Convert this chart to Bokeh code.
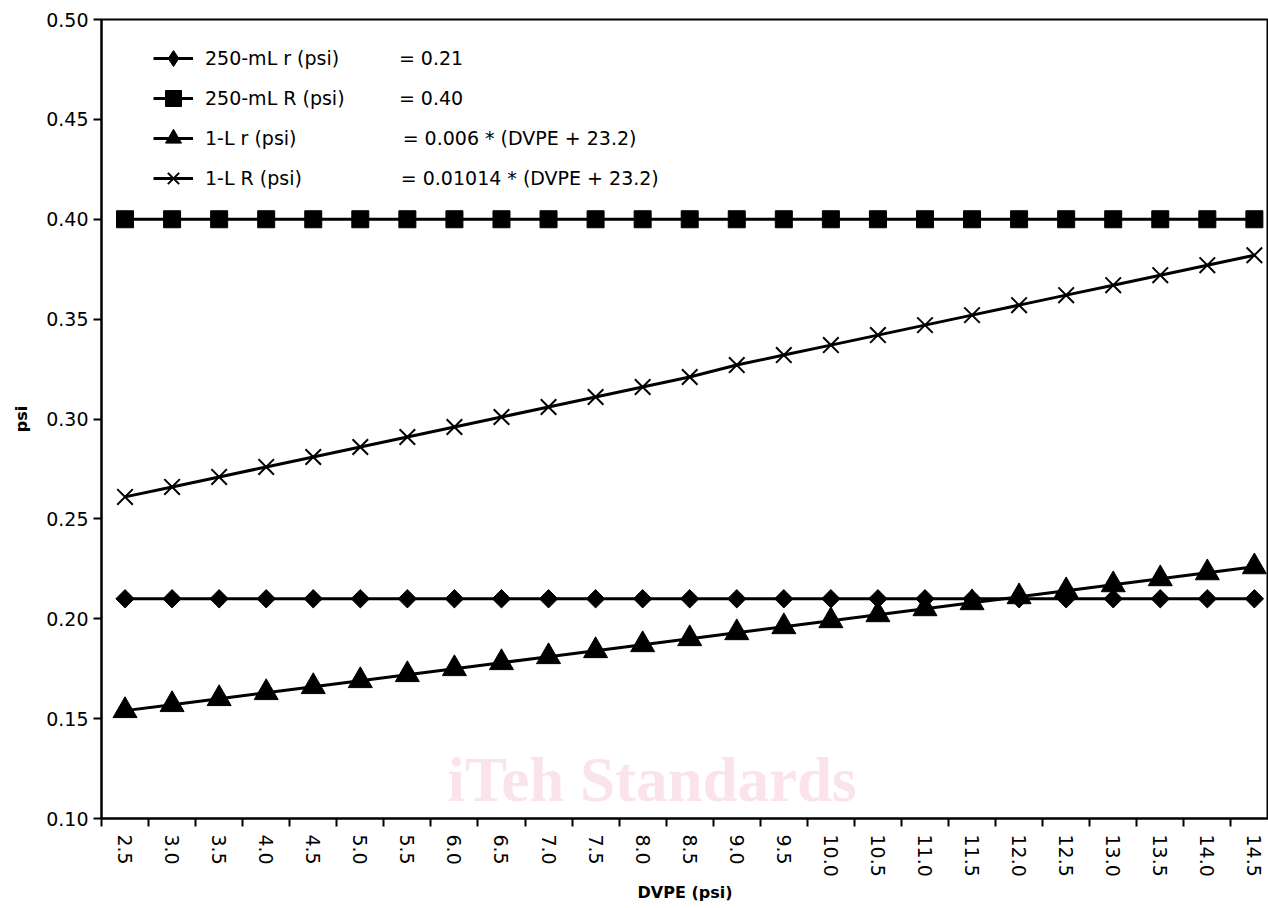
from bokeh.plotting import figure
from bokeh.models import (Range1d, FixedTicker, NumeralTickFormatter, Legend,
                          LegendItem, Label, ColumnDataSource)
from bokeh.embed import file_html
from bokeh.resources import INLINE

# ---- data ----
dvpe = [2.5, 3.0, 3.5, 4.0, 4.5, 5.0, 5.5, 6.0, 6.5, 7.0, 7.5, 8.0, 8.5,
        9.0, 9.5, 10.0, 10.5, 11.0, 11.5, 12.0, 12.5, 13.0, 13.5, 14.0, 14.5]
r_250 = [0.21, 0.21, 0.21, 0.21, 0.21, 0.21, 0.21, 0.21, 0.21, 0.21, 0.21, 0.21, 0.21,
         0.21, 0.21, 0.21, 0.21, 0.21, 0.21, 0.21, 0.21, 0.21, 0.21, 0.21, 0.21]
R_250 = [0.40, 0.40, 0.40, 0.40, 0.40, 0.40, 0.40, 0.40, 0.40, 0.40, 0.40, 0.40, 0.40,
         0.40, 0.40, 0.40, 0.40, 0.40, 0.40, 0.40, 0.40, 0.40, 0.40, 0.40, 0.40]
r_1L = [0.154, 0.157, 0.160, 0.163, 0.166, 0.169, 0.172, 0.175, 0.178, 0.181, 0.184,
        0.187, 0.190, 0.193, 0.196, 0.199, 0.202, 0.205, 0.208, 0.211, 0.214, 0.217,
        0.220, 0.223, 0.226]
R_1L = [0.261, 0.266, 0.271, 0.276, 0.281, 0.286, 0.291, 0.296, 0.301, 0.306, 0.311,
        0.316, 0.321, 0.327, 0.332, 0.337, 0.342, 0.347, 0.352, 0.357, 0.362, 0.367,
        0.372, 0.377, 0.382]
category_edges = [2.25, 2.75, 3.25, 3.75, 4.25, 4.75, 5.25, 5.75, 6.25, 6.75, 7.25,
                  7.75, 8.25, 8.75, 9.25, 9.75, 10.25, 10.75, 11.25, 11.75, 12.25,
                  12.75, 13.25, 13.75, 14.25]
y_ticks = [0.10, 0.15, 0.20, 0.25, 0.30, 0.35, 0.40, 0.45, 0.50]
legend_names = ["250-mL r (psi)", "250-mL R (psi)", "1-L r (psi)", "1-L R (psi)"]
legend_formulas = ["= 0.21", "= 0.40", "= 0.006 * (DVPE + 23.2)", "= 0.01014 * (DVPE + 23.2)"]
x_title = "DVPE (psi)"
y_title = "psi"
watermark = "iTeh Standards"

FONT = "DejaVu Sans"

src = ColumnDataSource(dict(x=dvpe, r250=r_250, R250=R_250, r1=r_1L, R1=R_1L))

p = figure(width=1268, height=908, output_backend="svg", toolbar_location=None,
           x_range=Range1d(2.25, 14.65), y_range=Range1d(0.10, 0.50),
           min_border_left=101, min_border_right=0, min_border_top=19,
           min_border_bottom=90)
p.grid.visible = False
p.outline_line_color = "black"
p.outline_line_width = 2
p.background_fill_color = "white"
p.border_fill_color = "white"

LW = 3
l1 = p.line("x", "r250", source=src, line_color="black", line_width=LW)
d1 = p.scatter("x", "r250", source=src, marker="diamond", size=11,
               fill_color="black", line_color="black")
m1 = p.scatter("x", "r250", source=src, marker="square", angle=0.785398, size=13,
               fill_color="black", line_color="black")
l2 = p.line("x", "R250", source=src, line_color="black", line_width=LW)
m2 = p.scatter("x", "R250", source=src, marker="square", size=17,
               fill_color="black", line_color="black")
l3 = p.line("x", "r1", source=src, line_color="black", line_width=LW)
m3 = p.scatter("x", "r1", source=src, marker="triangle", size=24,
               fill_color="black", line_color="black")
l4 = p.line("x", "R1", source=src, line_color="black", line_width=LW)
m4 = p.scatter("x", "R1", source=src, marker="x", size=22,
               line_color="black", line_width=2)

# axes
xa = p.xaxis[0]
xa.ticker = FixedTicker(ticks=dvpe, minor_ticks=category_edges)
xa.formatter = NumeralTickFormatter(format="0.0")
xa.major_label_orientation = "vertical"
xa.major_tick_line_color = None
xa.major_tick_out = 8
xa.major_tick_in = 0
xa.minor_tick_line_color = "black"
xa.minor_tick_line_width = 2
xa.minor_tick_out = 8
xa.minor_tick_in = 0
xa.major_label_standoff = 8
xa.axis_line_width = 2
xa.axis_label = x_title

ya = p.yaxis[0]
ya.ticker = FixedTicker(ticks=y_ticks)
ya.formatter = NumeralTickFormatter(format="0.00")
ya.major_tick_line_width = 2
ya.major_tick_line_color = "black"
ya.major_tick_out = 8
ya.major_tick_in = 0
ya.minor_tick_line_color = None
ya.major_label_standoff = 5
ya.axis_line_width = 2
ya.axis_label = y_title

for ax in (xa, ya):
    ax.major_label_text_font = FONT
    ax.major_label_text_font_size = "19px"
    ax.major_label_text_color = "black"
    ax.axis_label_text_font = FONT
    ax.axis_label_text_font_size = "16px"
    ax.axis_label_text_font_style = "bold"
    ax.axis_label_text_color = "black"
    ax.axis_line_color = "black"
xa.axis_label_standoff = 3
ya.axis_label_standoff = 12

# legend
items = [LegendItem(label=legend_names[0], renderers=[l1, d1]),
         LegendItem(label=legend_names[1], renderers=[l2, m2]),
         LegendItem(label=legend_names[2], renderers=[l3, m3]),
         LegendItem(label=legend_names[3], renderers=[l4, m4])]
legend = Legend(items=items, location=(52, 620), padding=0, margin=0,
                spacing=0, glyph_width=40, glyph_height=40, label_height=40,
                label_standoff=12, border_line_color=None, background_fill_alpha=0,
                label_text_font=FONT, label_text_font_size="19px",
                label_text_color="black")
p.add_layout(legend)

formula_x = [5.41, 5.41, 5.45, 5.43]
formula_y = [0.4805, 0.4605, 0.4405, 0.4205]
for fx, fy, txt in zip(formula_x, formula_y, legend_formulas):
    p.add_layout(Label(x=fx, y=fy, text=txt, text_font=FONT,
                       text_font_size="19px", text_baseline="middle",
                       text_color="black"))

# watermark
p.add_layout(Label(x=8.1, y=0.1195, text=watermark, text_font="Liberation Serif",
                   text_font_size="63px", text_font_style="bold",
                   text_align="center", text_baseline="middle",
                   text_color="#e04070", text_alpha=0.15, level="overlay"))

open("out.html", "w").write(file_html(p, INLINE))
